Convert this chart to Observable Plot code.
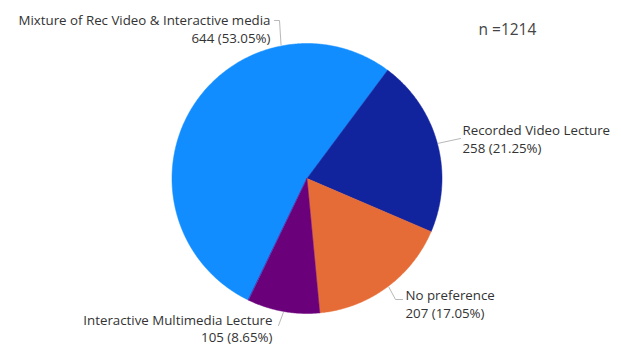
<!DOCTYPE html>
<html>
<head>
<meta charset="utf-8">
<script src="https://cdn.jsdelivr.net/npm/d3@7"></script>
<script src="https://cdn.jsdelivr.net/npm/@observablehq/plot@0.6"></script>
<style>
  html, body { margin: 0; padding: 0; background: #fff; }
  #chart { width: 621px; height: 345px; }
  svg { display: block; }
</style>
</head>
<body>
<div id="chart"></div>
<script>
// Survey: preferred lecture format
const categories = [
  "Mixture of Rec Video & Interactive media",
  "Recorded Video Lecture",
  "No preference",
  "Interactive Multimedia Lecture"
];
const counts = [644, 258, 207, 105];
const colors = ["#118DFF", "#12239E", "#E66C37", "#6B007B"];

// Layout of the pie (pixel space, identity projection)
const W = 621, H = 345;
const cx = 306.5, cy = 178, r = 135;
const startDeg = -154.3; // first slice begins here, clockwise from 12 o'clock

// Label placement: where the leader touches the rim (deg), leader bend points, text anchor
const labelTouch = [-11, 75, 143, 190];
const labelBends = [[[279, 20], [274, 20]], [[460, 138]], [[395, 299], [402, 299]], [[278, 325]]];
const labelX = [270, 462, 405, 272];
const labelY = [20, 130, 295, 320];
const labelGap = [18, 18, 18, 17];
const labelAnchor = ["end", "start", "start", "end"];

const total = d3.sum(counts);
const toRad = (d) => d * Math.PI / 180;
const pt = (a, rad = r) => [cx + rad * Math.sin(a), cy - rad * Math.cos(a)];

const arcs = d3.pie().sort(null)
  .startAngle(toRad(startDeg))
  .endAngle(toRad(startDeg) + 2 * Math.PI)(counts);

// Slice polygons as GeoJSON in pixel coordinates
const slices = arcs.map((a, i) => {
  const n = Math.max(2, Math.ceil((a.endAngle - a.startAngle) / 0.01));
  const ring = [[cx, cy]];
  for (let k = 0; k <= n; ++k) ring.push(pt(a.startAngle + (a.endAngle - a.startAngle) * k / n));
  ring.push([cx, cy]);
  return {type: "Feature", properties: {name: categories[i], color: colors[i]}, geometry: {type: "Polygon", coordinates: [ring]}};
});

const leaders = [];
categories.forEach((c, i) => {
  const pts = [pt(toRad(labelTouch[i]), r + 1), ...labelBends[i]];
  pts.forEach(([x, y]) => leaders.push({name: c, x, y}));
});

const fmtPct = (v) => (v / total * 100).toFixed(2) + "%";
const labels = categories.map((c, i) => ({
  name: c,
  value: `${counts[i]} (${fmtPct(counts[i])})`,
  x: labelX[i],
  y: labelY[i],
  y2: labelY[i] + labelGap[i],
  anchor: labelAnchor[i]
}));

const font = "'Open Sans', 'Noto Sans', sans-serif";
const textStyle = {lineAnchor: "middle", fontSize: 13.3, fill: "#333"};

const chart = Plot.plot({
  width: W,
  height: H,
  margin: 0,
  projection: {type: "identity"},
  style: {fontFamily: font, background: "#fff"},
  marks: [
    Plot.geo(slices, {fill: (d) => d.properties.color, stroke: (d) => d.properties.color, strokeWidth: 0.5}),
    Plot.line(leaders, {x: "x", y: "y", z: "name", stroke: "#b8b8b8", strokeWidth: 1}),
    ...["start", "end"].map((anc) => [
      Plot.text(labels.filter((d) => d.anchor === anc), {x: "x", y: "y", text: "name", textAnchor: anc, ...textStyle}),
      Plot.text(labels.filter((d) => d.anchor === anc), {x: "x", y: "y2", text: "value", textAnchor: anc, ...textStyle})
    ]).flat(),
    Plot.text([`n =${total}`], {x: () => 478, y: () => 30, text: (d) => d, textAnchor: "start", lineAnchor: "middle", fontSize: 15.5, fill: "#444"})
  ]
});

document.getElementById("chart").append(chart);
</script>
</body>
</html>
